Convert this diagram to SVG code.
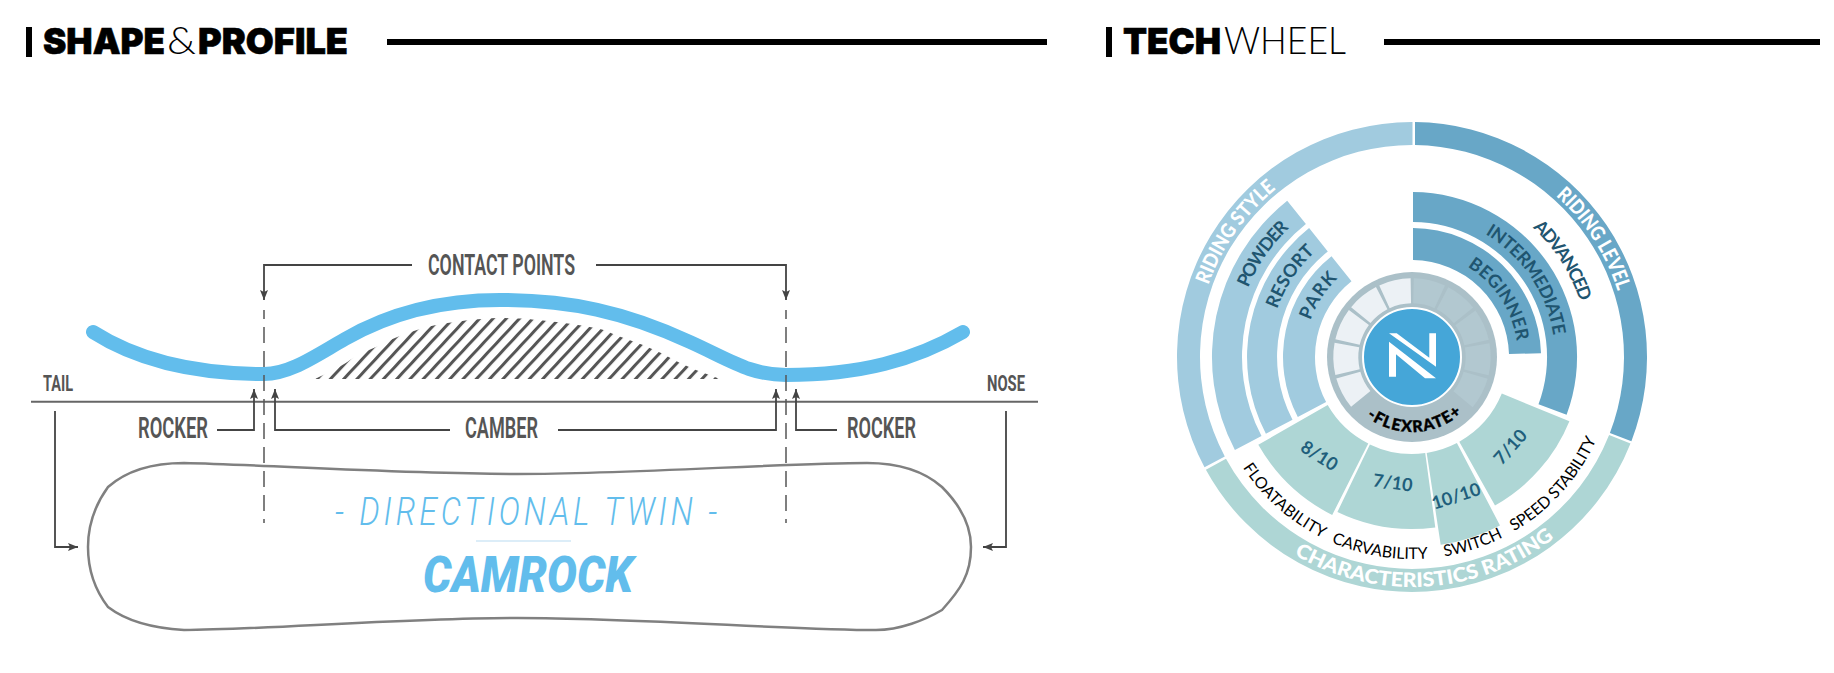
<svg xmlns="http://www.w3.org/2000/svg" width="1834" height="673" viewBox="0 0 1834 673">
<style>
.h{font-family:"Inter","Liberation Sans",sans-serif;font-size:36px;font-weight:900;fill:#000;stroke:#000;stroke-width:.6}
.hl{font-family:"Lato","Liberation Sans",sans-serif;font-size:37px;font-weight:300;fill:#000}
.lab{font-family:"Roboto","Liberation Sans",sans-serif;font-size:29px;font-weight:600;fill:#555}
.sm{font-family:"Roboto","Liberation Sans",sans-serif;font-size:22px;font-weight:700;fill:#555}
.conn{fill:none;stroke:#444;stroke-width:1.8}
.dash{fill:none;stroke:#555;stroke-width:1.5;stroke-dasharray:16 8;stroke-dashoffset:7}
.arrow{marker-end:url(#ah)}
.style{fill:#a1cbdf}.level{fill:#68a7c7}.char{fill:#aed6d5}
.wt{font-family:"Lato","Liberation Sans",sans-serif;text-anchor:middle}
.rw{font-size:20px;font-weight:900;fill:#fff}
.rb{font-size:18px;font-weight:700;fill:#1f5570}
.bk{font-size:16px;font-weight:400;fill:#000}
.num{font-family:"Lato","Liberation Sans",sans-serif;font-size:18px;font-weight:700;fill:#1f5f7c;text-anchor:middle}
</style>
<defs>
<marker id="ah" markerUnits="userSpaceOnUse" markerWidth="12" markerHeight="10" refX="10" refY="4" orient="auto"><path d="M0,0L10,4L0,8L2,4Z" fill="#444"/></marker>
<pattern id="hatch" x="4" width="9.7" height="9.7" patternUnits="userSpaceOnUse" patternTransform="rotate(43)"><rect x="0" y="0" width="3" height="9.7" fill="#555"/></pattern>
<path id="c216" d="M1412,573A216,216 0 1 1 1412,141A216,216 0 1 1 1412,573"/>
<path id="c178" d="M1412,535A178,178 0 1 1 1412,179A178,178 0 1 1 1412,535"/>
<path id="c177" d="M1412,534A177,177 0 1 1 1412,180A177,177 0 1 1 1412,534"/>
<path id="c143" d="M1412,500A143,143 0 1 1 1412,214A143,143 0 1 1 1412,500"/>
<path id="c108" d="M1412,465A108,108 0 1 1 1412,249A108,108 0 1 1 1412,465"/>
<path id="c106" d="M1412,463A106,106 0 1 1 1412,251A106,106 0 1 1 1412,463"/>
<path id="r202" d="M1412,155A202,202 0 1 0 1412,559A202,202 0 1 0 1412,155"/>
<path id="r230" d="M1412,127A230,230 0 1 0 1412,587A230,230 0 1 0 1412,127"/>
<path id="r75" d="M1412,282A75,75 0 1 0 1412,432A75,75 0 1 0 1412,282"/>
<clipPath id="camber"><path d="M315,379C330,372 345,364 350,360C362,352 372,349 380,345C395,337 408,333 420,329C435,325 445,323 455,322C475,319 490,318 500,318C515,318 530,319 564,323C580,325 590,327 600,329C610,332 615,335 621,337L643,345L661,353L680,363L696,370L720,379Z"/></clipPath>
</defs>

<g id="header-shape">
<rect x="26" y="27" width="6" height="30" fill="#000"/>
<text class="h" x="43" y="54" textLength="122" lengthAdjust="spacingAndGlyphs">SHAPE</text>
<text class="hl" x="167" y="54" textLength="29" lengthAdjust="spacingAndGlyphs">&amp;</text>
<text class="h" x="198" y="54" textLength="150" lengthAdjust="spacingAndGlyphs">PROFILE</text>
<rect x="387" y="39" width="660" height="6" fill="#000"/>
</g>
<g id="header-wheel">
<rect x="1106" y="27" width="6" height="30" fill="#000"/>
<text class="h" x="1123" y="54" textLength="98" lengthAdjust="spacingAndGlyphs">TECH</text>
<text class="hl" x="1224" y="54" textLength="122" lengthAdjust="spacingAndGlyphs">WHEEL</text>
<rect x="1384" y="39" width="436" height="6" fill="#000"/>
</g>

<g id="baseline"><path d="M31,401.7H1038" fill="none" stroke="#666" stroke-width="2"/></g>
<g id="camber-hatch"><rect x="310" y="310" width="415" height="70" fill="url(#hatch)" clip-path="url(#camber)"/></g>
<g id="profile"><path d="M93,332C140,362 200,374 264,374C290,374 315,356 345,339C390,313 440,300 500,300C570,300 625,312 690,342C730,360 750,375 786,375C860,375 915,360 963,332" fill="none" stroke="#62bdec" stroke-width="14" stroke-linecap="round"/></g>
<g id="board"><path d="M184,463C270,465 400,474 518,474C636,474 780,463 867,463C900,463 925,472 942,487C960,505 971,525 971,547C971,575 960,590 942,610C925,620 900,630 876,630C790,630 640,618 518,618C400,618 260,630 184,630C150,628 125,620 108,607C95,590 88,570 88,547C88,525 95,505 108,487C125,472 150,463 184,463Z" fill="none" stroke="#808080" stroke-width="2.5"/></g>

<g id="connectors">
<path class="dash" d="M264,310V523"/>
<path class="dash" d="M786,310V523"/>
<path class="conn arrow" d="M412,265H264V300"/>
<path class="conn arrow" d="M596,265H786V300"/>
<path class="conn arrow" d="M217,430H254V389"/>
<path class="conn arrow" d="M450,430H275V389"/>
<path class="conn arrow" d="M558,430H776V389"/>
<path class="conn arrow" d="M837,430H796V389"/>
<path class="conn arrow" d="M55,411V547H78"/>
<path class="conn arrow" d="M1006,411V547H983"/>
</g>

<g id="labels-left">
<text class="lab" x="428" y="275" textLength="147" lengthAdjust="spacingAndGlyphs">CONTACT POINTS</text>
<text class="lab" x="138" y="438" textLength="70" lengthAdjust="spacingAndGlyphs">ROCKER</text>
<text class="lab" x="465" y="438" textLength="73" lengthAdjust="spacingAndGlyphs">CAMBER</text>
<text class="lab" x="847" y="438" textLength="69" lengthAdjust="spacingAndGlyphs">ROCKER</text>
<text class="sm" x="43" y="391" textLength="30" lengthAdjust="spacingAndGlyphs">TAIL</text>
<text class="sm" x="987" y="391" textLength="38" lengthAdjust="spacingAndGlyphs">NOSE</text>
<text transform="translate(335,525) scale(.82,1)" textLength="466" style="font-family:'Roboto','Liberation Sans',sans-serif;font-size:39px;font-weight:300;font-style:italic;fill:#62bdec">- DIRECTIONAL TWIN -</text>
<rect x="476" y="540" width="95" height="2" fill="#dcedf8"/>
<text x="423" y="592" textLength="210" lengthAdjust="spacingAndGlyphs" style="font-family:'Roboto','Liberation Sans',sans-serif;font-size:50px;font-weight:900;font-style:italic;fill:#62bdec">CAMROCK</text>
</g>

<g id="wheel-riding-style">
<path class="style" d="M1204.5,467.3A235,235 0 0 1 1412.5,122V145A212,212 0 0 0 1224.8,456.5Z"/>
<path class="style" d="M1234.9,450A200,200 0 0 1 1287.2,200.7L1305.9,224.1A170,170 0 0 0 1261.5,436Z"/>
<path class="style" d="M1265.9,433.7A165,165 0 0 1 1309.1,228.1L1327.8,251.5A135,135 0 0 0 1292.5,419.7Z"/>
<path class="style" d="M1297.8,417A129,129 0 0 1 1331.5,256.2L1351.5,281.2A97,97 0 0 0 1326.1,402.1Z"/>
<text class="wt rw"><textPath href="#c216" startOffset="472" textLength="119" lengthAdjust="spacingAndGlyphs">RIDING STYLE</textPath></text>
<text class="wt rb"><textPath href="#c178" startOffset="387" textLength="73">POWDER</textPath></text>
<text class="wt rb"><textPath href="#c143" startOffset="308" textLength="69">RESORT</textPath></text>
<text class="wt rb"><textPath href="#c108" startOffset="232" textLength="50">PARK</textPath></text>
</g>
<g id="wheel-riding-level">
<path class="level" d="M1415,122A235,235 0 0 1 1631.4,441.2L1609.9,433A212,212 0 0 0 1415,145Z"/>
<path class="level" d="M1413,192A165,165 0 0 1 1566.6,414.8L1538.5,404.3A135,135 0 0 0 1413,222Z"/>
<path class="level" d="M1413,228A129,129 0 0 1 1541,353.2L1509,354.1A97,97 0 0 0 1413,260Z"/>
<text class="wt rw"><textPath href="#c216" startOffset="893" textLength="115" lengthAdjust="spacingAndGlyphs">RIDING LEVEL</textPath></text>
<text class="wt rb"><textPath href="#c177" startOffset="733" textLength="89">ADVANCED</textPath></text>
<text class="wt rb"><textPath href="#c143" startOffset="589" textLength="126">INTERMEDIATE</textPath></text>
<text class="wt rb"><textPath href="#c106" startOffset="437" textLength="92">BEGINNER</textPath></text>
</g>
<g id="wheel-characteristics">
<path class="char" d="M1630.5,443.5A235,235 0 0 1 1205.9,469.8L1226,458.8A212,212 0 0 0 1609.1,435Z"/>
<path class="char" d="M1258.3,444.7A177,177 0 0 0 1332.2,515L1368.3,443.6A97,97 0 0 1 1327.7,405.1Z"/>
<path class="char" d="M1337.4,512A172,172 0 0 0 1435.3,527.4L1425.2,453.1A97,97 0 0 1 1369.9,444.4Z"/>
<path class="char" d="M1440.7,544.8A190,190 0 0 0 1500,525.4L1456.9,443A97,97 0 0 1 1426.7,452.9Z"/>
<path class="char" d="M1495,505.4A170,170 0 0 0 1569.4,421.2L1501.8,393.6A97,97 0 0 1 1459.3,441.7Z"/>
<text class="num" transform="translate(1316,461) rotate(33)">8/10</text>
<text class="num" transform="translate(1392,489) rotate(8)">7/10</text>
<text class="num" transform="translate(1458,502) rotate(-18)">10/10</text>
<text class="num" transform="translate(1515,451) rotate(-48)">7/10</text>
<text class="wt bk"><textPath href="#r202" startOffset="488" textLength="108">FLOATABILITY</textPath></text>
<text class="wt bk"><textPath href="#r202" startOffset="601" textLength="99">CARVABILITY</textPath></text>
<text class="wt bk"><textPath href="#r202" startOffset="698" textLength="62">SWITCH</textPath></text>
<text class="wt bk"><textPath href="#r202" startOffset="804" textLength="125">SPEED STABILITY</textPath></text>
<text class="wt rw"><textPath href="#r230" startOffset="737" textLength="277" lengthAdjust="spacingAndGlyphs">CHARACTERISTICS RATING</textPath></text>
</g>
<g id="wheel-flexrate">
<circle cx="1412" cy="357" r="85" fill="#abc0c8"/>
<circle cx="1412" cy="357" r="66.2" fill="none" stroke="#ecf1f5" stroke-width="25" pathLength="360" stroke-dasharray="23.5 2.7 23.5 2.7 23.5 2.7 23.5 2.7 23.5 400" transform="rotate(140.7 1412 357)"/>
<circle cx="1412" cy="357" r="66.2" fill="none" stroke="#b2c8d0" stroke-width="25" pathLength="360" stroke-dasharray="23.5 2.7 23.5 2.7 23.5 2.7 23.5 2.7 23.5 400" transform="rotate(-88.7 1412 357)"/>
<text class="wt" style="font-size:16px;font-weight:900;fill:#000;stroke:#000;stroke-width:.4"><textPath href="#r75" startOffset="238" textLength="103">-FLEXRATE+</textPath></text>
</g>
<g id="wheel-logo">
<circle cx="1412" cy="357" r="49" fill="#45a6d8" stroke="#fff" stroke-width="2"/>
<polygon points="1389,333.3 1396.7,333.3 1429.3,357.7 1429.3,333.3 1436,333.3 1436,366.7" fill="#fff"/>
<polygon points="1389,341.7 1436,378.3 1425,378.3 1396,354.3 1396,376.7 1389,376.7" fill="#fff"/>
</g>
</svg>
